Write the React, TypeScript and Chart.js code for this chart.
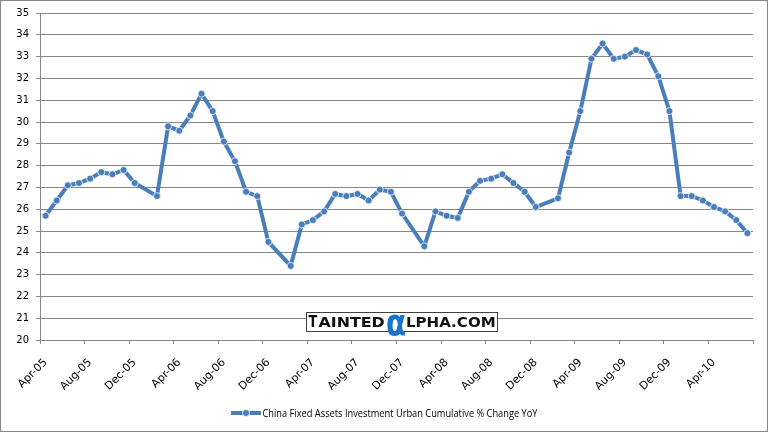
import React, { useEffect, useRef } from 'react';
import { Chart, registerables } from 'chart.js';

Chart.register(...registerables);

const categories: string[] = [
  'Apr-05', 'May-05', 'Jun-05', 'Jul-05', 'Aug-05', 'Sep-05', 'Oct-05', 'Nov-05', 'Dec-05',
  'Jan-06', 'Feb-06', 'Mar-06', 'Apr-06', 'May-06', 'Jun-06', 'Jul-06', 'Aug-06', 'Sep-06', 'Oct-06', 'Nov-06', 'Dec-06',
  'Jan-07', 'Feb-07', 'Mar-07', 'Apr-07', 'May-07', 'Jun-07', 'Jul-07', 'Aug-07', 'Sep-07', 'Oct-07', 'Nov-07', 'Dec-07',
  'Jan-08', 'Feb-08', 'Mar-08', 'Apr-08', 'May-08', 'Jun-08', 'Jul-08', 'Aug-08', 'Sep-08', 'Oct-08', 'Nov-08', 'Dec-08',
  'Jan-09', 'Feb-09', 'Mar-09', 'Apr-09', 'May-09', 'Jun-09', 'Jul-09', 'Aug-09', 'Sep-09', 'Oct-09', 'Nov-09', 'Dec-09',
  'Jan-10', 'Feb-10', 'Mar-10', 'Apr-10', 'May-10', 'Jun-10', 'Jul-10',
];

const values: (number | null)[] = [
  25.7, 26.4, 27.1, 27.2, 27.4, 27.7, 27.6, 27.8, 27.2,
  null, 26.6, 29.8, 29.6, 30.3, 31.3, 30.5, 29.1, 28.2, 26.8, 26.6, 24.5,
  null, 23.4, 25.3, 25.5, 25.9, 26.7, 26.6, 26.7, 26.4, 26.9, 26.8, 25.8,
  null, 24.3, 25.9, 25.7, 25.6, 26.8, 27.3, 27.4, 27.6, 27.2, 26.8, 26.1,
  null, 26.5, 28.6, 30.5, 32.9, 33.6, 32.9, 33.0, 33.3, 33.1, 32.1, 30.5,
  26.6, 26.6, 26.4, 26.1, 25.9, 25.5, 24.9,
];

const seriesName = 'China Fixed Assets Investment Urban Cumulative % Change YoY';
const yMin = 20;
const yMax = 35;
const yStep = 1;
const labelEvery = 4;

const BLUE = '#4A7EBB';
const GRID = '#878787';

function fitText(
  ctx: CanvasRenderingContext2D,
  text: string,
  font: string,
  x0: number,
  x1: number,
  yTop: number,
  yBottom: number,
  color: string
) {
  ctx.save();
  ctx.font = font;
  ctx.textAlign = 'left';
  ctx.textBaseline = 'alphabetic';
  const m = ctx.measureText(text);
  const w = m.actualBoundingBoxLeft + m.actualBoundingBoxRight;
  const h = m.actualBoundingBoxAscent + m.actualBoundingBoxDescent;
  const sx = (x1 - x0) / w;
  const sy = (yBottom - yTop) / h;
  ctx.translate(x0, yTop);
  ctx.scale(sx, sy);
  ctx.fillStyle = color;
  ctx.fillText(text, m.actualBoundingBoxLeft, m.actualBoundingBoxAscent);
  ctx.restore();
}

const framePlugin = {
  id: 'frame',
  beforeDraw(chart: any) {
    const ctx = chart.ctx as CanvasRenderingContext2D;
    ctx.save();
    ctx.fillStyle = '#ffffff';
    ctx.fillRect(0, 0, chart.width, chart.height);
    ctx.restore();
  },
  afterDraw(chart: any) {
    const ctx = chart.ctx as CanvasRenderingContext2D;
    ctx.save();
    // outer border
    ctx.strokeStyle = GRID;
    ctx.lineWidth = 1;
    ctx.strokeRect(0.5, 0.5, 767, 431);

    // watermark box
    ctx.fillStyle = '#ffffff';
    ctx.fillRect(306.5, 312.5, 191, 19);
    ctx.strokeStyle = '#404040';
    ctx.strokeRect(306.5, 312.5, 191, 19);
    ctx.restore();

    const wf = 'bold 20px "DejaVu Sans"';
    fitText(ctx, 'T', wf, 308.5, 317.5, 315.8, 327, '#111111');
    fitText(ctx, 'AINTED', wf, 318.5, 384.3, 317, 327, '#111111');
    fitText(ctx, 'α', 'bold 40px "DejaVu Sans"', 386.7, 405, 313.5, 335.5, '#1874CD');
    fitText(ctx, 'LPHA.COM', wf, 406.7, 495, 317, 327, '#111111');

    // legend
    ctx.save();
    ctx.strokeStyle = BLUE;
    ctx.lineWidth = 4;
    ctx.lineCap = 'butt';
    ctx.beginPath();
    ctx.moveTo(231, 413);
    ctx.lineTo(261, 413);
    ctx.stroke();
    ctx.beginPath();
    ctx.arc(246, 413, 3.5, 0, Math.PI * 2);
    ctx.fillStyle = BLUE;
    ctx.fill();
    ctx.lineWidth = 1;
    ctx.strokeStyle = 'rgba(255,255,255,0.75)';
    ctx.stroke();

    ctx.font = '10px "Open Sans"';
    const tw = ctx.measureText(seriesName).width;
    const sx = 275 / tw;
    ctx.translate(262.5, 416.5);
    ctx.scale(sx, 1);
    ctx.fillStyle = '#000000';
    ctx.textBaseline = 'alphabetic';
    ctx.textAlign = 'left';
    ctx.fillText(seriesName, 0, 0);
    ctx.restore();
  },
};

export default function App() {
  const ref = useRef<HTMLCanvasElement | null>(null);

  useEffect(() => {
    const canvas = ref.current;
    if (!canvas) return;
    const chart = new Chart(canvas, {
      type: 'line',
      data: {
        labels: categories,
        datasets: [
          {
            label: seriesName,
            data: values,
            borderColor: BLUE,
            backgroundColor: BLUE,
            borderWidth: 4,
            pointRadius: 3.5,
            pointBorderWidth: 1,
            pointBorderColor: 'rgba(255,255,255,0.75)',
            pointBackgroundColor: BLUE,
            spanGaps: true,
            tension: 0,
            fill: false,
          },
        ],
      },
      options: {
        responsive: false,
        animation: false,
        devicePixelRatio: 1,
        layout: { padding: { left: 0, right: 16, top: 12, bottom: 43 } },
        plugins: {
          legend: { display: false },
          tooltip: { enabled: false },
        },
        scales: {
          x: {
            type: 'category',
            offset: true,
            grid: {
              offset: true,
              drawOnChartArea: false,
              tickLength: 4,
              tickColor: (c: any) =>
                c.index === undefined || c.index % labelEvery === 0 ? GRID : 'rgba(0,0,0,0)',
            },
            border: { color: GRID },
            ticks: {
              autoSkip: false,
              minRotation: 45,
              maxRotation: 45,
              padding: 12,
              color: '#000000',
              font: { family: '"DejaVu Sans"', size: 11 },
              callback: (_v: any, i: number) => (i % labelEvery === 0 ? categories[i] : ''),
            },
            afterFit: (s: any) => {
              s.height = 50;
            },
          },
          y: {
            min: yMin,
            max: yMax,
            grid: { color: GRID, tickColor: GRID, tickLength: 4 },
            border: { color: GRID },
            ticks: {
              stepSize: yStep,
              padding: 7,
              color: '#000000',
              font: { family: '"DejaVu Sans"', size: 10 },
            },
            afterFit: (s: any) => {
              s.width = 40;
            },
          },
        },
      },
      plugins: [framePlugin],
    });
    return () => chart.destroy();
  }, []);

  return (
    <div style={{ position: 'absolute', left: 0, top: 0, width: 769, height: 433 }}>
      <canvas ref={ref} width={769} height={433} style={{ display: 'block' }} />
    </div>
  );
}
